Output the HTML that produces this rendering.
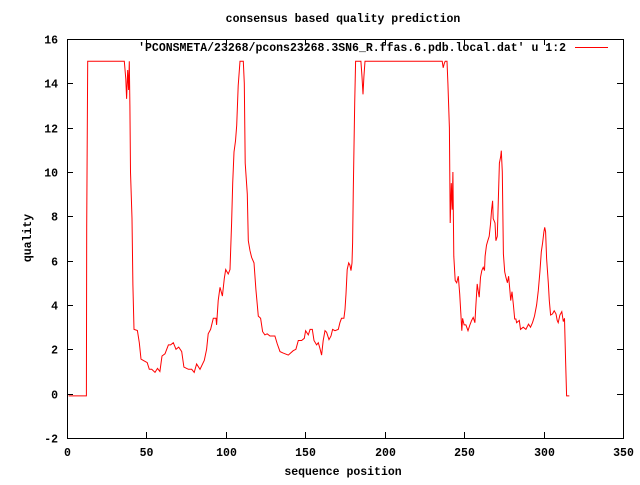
<!DOCTYPE html>
<html><head><meta charset="utf-8"><style>
body{margin:0;background:#fff}
text{font-family:"Liberation Mono","DejaVu Sans Mono",monospace;font-size:11.5px;font-weight:bold;fill:#000}
</style></head><body>
<svg id="chart" width="640" height="480" xmlns="http://www.w3.org/2000/svg">
<rect width="640" height="480" fill="#fff"/>
<g id="axes"></g>
<text x="343" y="22" text-anchor="middle">consensus based quality prediction</text>
<text x="343" y="475" text-anchor="middle">sequence position</text>
<text x="31" y="238" text-anchor="middle" transform="rotate(-90 31 238)">quality</text>
<text x="566" y="51" text-anchor="end">'PCONSMETA/23268/pcons23268.3SN6_R.ffas.6.pdb.local.dat' u 1:2</text>
<rect x="575" y="47" width="33" height="1" fill="#ff0000"/>
<path id="series" fill="none" stroke="#f00" stroke-width="1"/>
</svg>
<script>
const xTicks=[0,50,100,150,200,250,300,350];
const yTicks=[-2,0,2,4,6,8,10,12,14,16];
const xs=[1,12.2,12.4,13,36.1,37,37.5,38.2,38.8,39.2,39.6,40,40.9,41.5,42.2,44.3,45.5,46.6,48,50.5,51.8,53.3,55.4,57,58.5,59.8,61.7,63.8,65.2,66.9,68.6,70.3,72.2,73.6,76.4,78.5,80.1,81.6,83.7,86.4,87.9,88.9,90.4,92.1,93.8,94.2,95.2,96.3,97.8,99,99.9,101.5,102.6,103.6,104.3,105.1,106.1,106.8,107.8,108.9,111,111.6,112.2,113.5,114.1,115.2,116.2,117.7,118.9,120.4,121.9,123.1,124.6,126,127.8,130.9,132.4,134.1,136.1,139.3,142.4,144.1,145.6,147.7,149.4,150.2,151.9,153,154.4,155.5,157.1,158.2,159.2,160.3,161.3,162.4,163.4,164.9,166.2,167.2,168.7,170.8,171.8,172.8,174.3,175,175.6,176.4,177.3,178.1,178.8,179.4,179.8,180.2,181.1,181.7,185,185.7,186.3,186.9,187.6,236.2,236.8,237.5,238.1,239.2,239.8,240.7,241.2,241.9,242.5,242.9,243.5,244.4,245.3,246.3,247.2,248,248.5,249,250,251.1,252.4,253.6,254.7,255.7,256.8,257.4,258.2,258.9,259.5,260.3,261.1,262,262.8,263.2,264.1,264.9,265.8,266.6,267.3,267.9,268.3,269.4,270,270.9,271.5,272.2,273,273.4,274,274.7,275.5,276.3,277.2,278,278.8,279.3,280.1,281,281.8,282.6,283,284.7,285.5,287.2,288.9,290.5,291.8,293,294.3,295.6,296.7,297.7,298.6,299.4,300.2,300.7,301.3,301.9,303,303.6,304.4,305.6,306.7,307.8,308.6,309.2,310.3,311.5,312.4,313.2,313.8,314.5,316.2];
const ys=[-0.1,-0.1,7.5,15,15,14.2,13.3,14.6,13.7,15,13,10,7.9,4.9,2.9,2.85,2.3,1.56,1.5,1.4,1.1,1.1,0.96,1.14,1,1.7,1.8,2.2,2.2,2.3,2,2.1,1.9,1.2,1.1,1.1,0.96,1.34,1.1,1.5,2,2.7,2.9,3.4,3.4,3.1,4.2,4.8,4.4,5.2,5.6,5.4,5.6,7.7,9.5,10.9,11.4,12.1,13.9,15,15,14,10.4,9,6.9,6.45,6.15,5.9,4.7,3.5,3.4,2.8,2.65,2.7,2.6,2.6,2.24,1.9,1.83,1.74,1.94,2,2.4,2.4,2.5,2.84,2.65,2.9,2.9,2.4,2.2,2.3,2.05,1.74,2.4,2.84,2.77,2.44,2.6,2.9,2.84,2.9,3.2,3.4,3.4,3.8,4.5,5.6,5.9,5.8,5.55,5.9,6.8,9.2,13.1,15,15,14.3,13.5,14.3,15,15,14.7,14.9,15,15,14,12,7.7,9.5,8.3,10,6.2,5.1,5,5.3,4.5,3.5,2.84,3.4,3.1,3.1,2.84,3.1,3.3,3.44,3.2,4,4.95,4.6,4.35,5.25,5.55,5.7,5.55,6.2,6.7,6.9,7.1,7.65,8.3,8.7,7.9,7.7,6.9,7.1,8.7,10.4,10.7,10.96,10,6.3,5.5,5.25,5,5.3,4.65,4.2,4.6,4,3.37,3.37,3.2,3.3,2.9,3,2.9,3.14,3,3.2,3.5,4,4.65,5.5,6.4,6.8,7.3,7.5,7.3,6.1,5,4.2,3.55,3.6,3.74,3.6,3.3,3.2,3.55,3.7,3.25,3.4,1.64,-0.1,-0.1];
const L=67,R=623,T=39,B=438,xmin=0,xmax=350,ymin=-2,ymax=16;
const sx=v=>L+(v-xmin)/(xmax-xmin)*(R-L);
const sy=v=>B-(v-ymin)/(ymax-ymin)*(B-T);
const NS='http://www.w3.org/2000/svg';
const ax=document.getElementById('axes');
function mk(tag,attrs){const e=document.createElementNS(NS,tag);for(const k in attrs)e.setAttribute(k,attrs[k]);ax.appendChild(e);return e;}
const frame=mk('rect',{x:L+0.5,y:T+0.5,width:R-L,height:B-T,fill:'none',stroke:'#000'});


xTicks.forEach(t=>{const x=Math.round(sx(t))+0.5;
 const a=mk('line',{x1:x,y1:B,x2:x,y2:B-6,stroke:'#000'});
 
 
 const b=mk('line',{x1:x,y1:T,x2:x,y2:T+6,stroke:'#000'});
 
 
 const l=mk('text',{x:x,y:B+18,'text-anchor':'middle'});l.textContent=t;
 
 
});
yTicks.forEach(t=>{const y=Math.round(sy(t))+0.5;
 const a=mk('line',{x1:L,y1:y,x2:L+6,y2:y,stroke:'#000'});
 
 
 const b=mk('line',{x1:R,y1:y,x2:R-6,y2:y,stroke:'#000'});
 
 
 const l=mk('text',{x:L-9,y:y+4,'text-anchor':'end'});l.textContent=t;
 
 
});
let d='';xs.forEach((x,i)=>{d+=(i?'L':'M')+sx(x).toFixed(1)+' '+sy(ys[i]).toFixed(1);});
document.getElementById('series').setAttribute('d',d);
</script>
</body></html>
